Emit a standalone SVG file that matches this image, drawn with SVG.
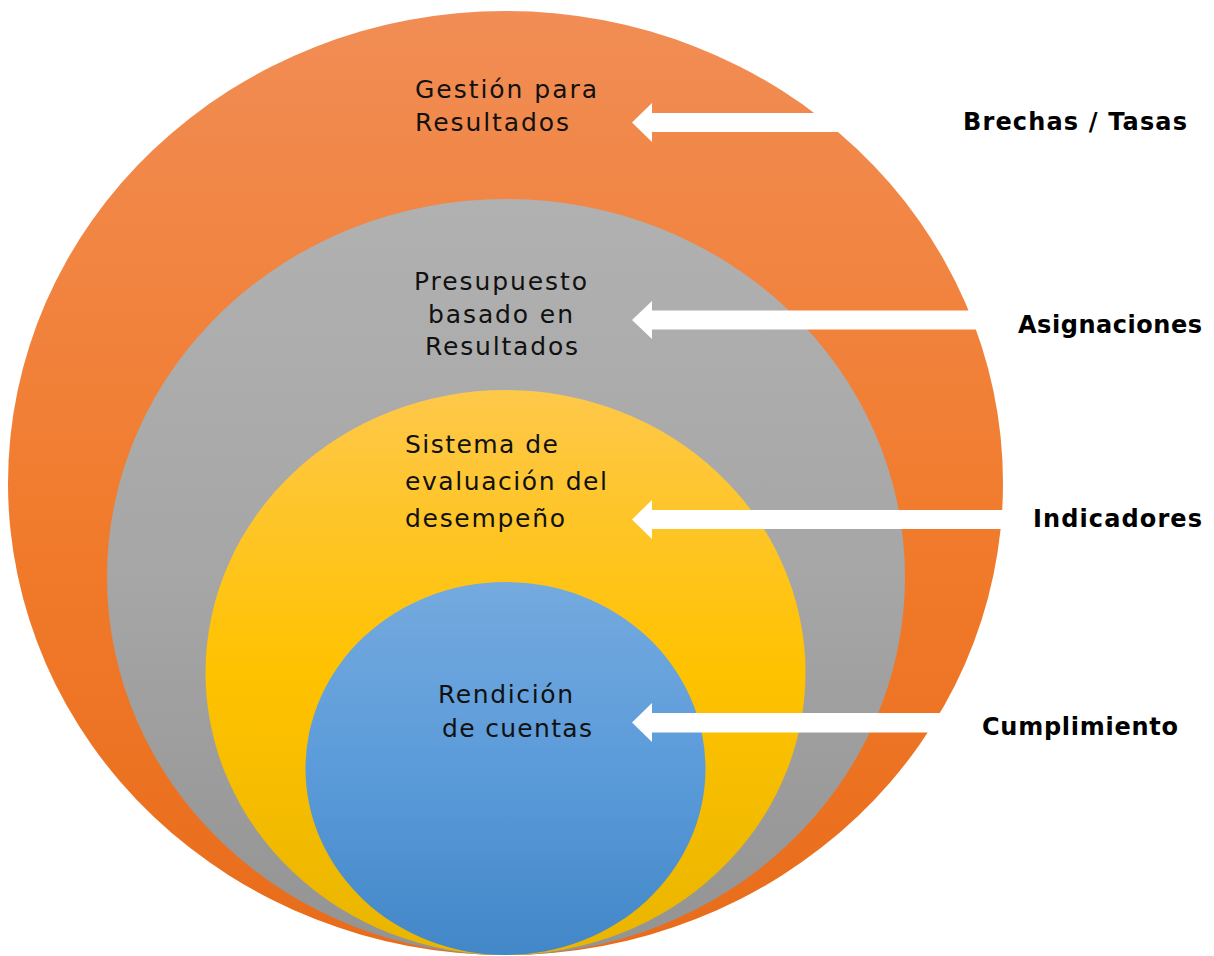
<svg xmlns="http://www.w3.org/2000/svg" width="1214" height="956" viewBox="0 0 1214 956">
  <defs>
    <linearGradient id="gOrange" x1="0" y1="0" x2="0" y2="1">
      <stop offset="0" stop-color="#F18D55"/>
      <stop offset="0.55" stop-color="#F17B2C"/>
      <stop offset="1" stop-color="#E86C1A"/>
    </linearGradient>
    <linearGradient id="gGray" x1="0" y1="0" x2="0" y2="1">
      <stop offset="0" stop-color="#B1B1B1"/>
      <stop offset="0.5" stop-color="#A6A6A6"/>
      <stop offset="1" stop-color="#939393"/>
    </linearGradient>
    <linearGradient id="gYellow" x1="0" y1="0" x2="0" y2="1">
      <stop offset="0" stop-color="#FEC84A"/>
      <stop offset="0.5" stop-color="#FFC200"/>
      <stop offset="1" stop-color="#E9B500"/>
    </linearGradient>
    <linearGradient id="gBlue" x1="0" y1="0" x2="0" y2="1">
      <stop offset="0" stop-color="#74AADE"/>
      <stop offset="0.5" stop-color="#5B9BDA"/>
      <stop offset="1" stop-color="#4287C8"/>
    </linearGradient>
  </defs>
  <style>
    .in { font-family: "DejaVu Sans", "Liberation Sans", sans-serif; font-size: 25px; fill: #111111; }
    .lab { font-family: "DejaVu Sans", "Liberation Sans", sans-serif; font-size: 24px; font-weight: bold; fill: #000000; }
    .arrow { fill: #FFFFFF; }
  </style>
  <rect x="0" y="0" width="1214" height="956" fill="#FFFFFF"/>

  <g id="node-gestion">
    <ellipse cx="505.5" cy="483" rx="497.5" ry="472" fill="url(#gOrange)"/>
  </g>
  <g id="node-presupuesto">
    <ellipse cx="506" cy="577" rx="399" ry="378" fill="url(#gGray)"/>
  </g>
  <g id="node-sistema">
    <ellipse cx="505.5" cy="672.5" rx="300" ry="282.5" fill="url(#gYellow)"/>
  </g>
  <g id="node-rendicion">
    <ellipse cx="505.5" cy="768.5" rx="200" ry="186.5" fill="url(#gBlue)"/>
  </g>

  <g id="connectors">
    <path class="arrow" d="M632,122.5 L652,103 L652,113 L840,113 L840,132 L652,132 L652,142 Z"/>
    <path class="arrow" d="M632,320 L652,301 L652,310.5 L990,310.5 L990,329.5 L652,329.5 L652,339 Z"/>
    <path class="arrow" d="M632,519.5 L652,500 L652,510 L1004,510 L1004,529 L652,529 L652,539 Z"/>
    <path class="arrow" d="M632,722.5 L652,703 L652,713 L950,713 L950,732.5 L652,732.5 L652,742 Z"/>
  </g>

  <g id="text-gestion">
    <text class="in" x="415" y="98" textLength="182">Gestión para</text>
    <text class="in" x="415" y="131" textLength="154">Resultados</text>
  </g>
  <g id="text-presupuesto">
    <text class="in" x="414" y="290" textLength="173">Presupuesto</text>
    <text class="in" x="428" y="323" textLength="145">basado en</text>
    <text class="in" x="425" y="355" textLength="153">Resultados</text>
  </g>
  <g id="text-sistema">
    <text class="in" x="405" y="453" textLength="153">Sistema de</text>
    <text class="in" x="405" y="490" textLength="202">evaluación del</text>
    <text class="in" x="405" y="527" textLength="160">desempeño</text>
  </g>
  <g id="text-rendicion">
    <text class="in" x="438" y="703" textLength="135">Rendición</text>
    <text class="in" x="442" y="737" textLength="150">de cuentas</text>
  </g>

  <g id="labels">
    <text class="lab" x="963" y="130" textLength="224">Brechas / Tasas</text>
    <text class="lab" x="1018" y="333" textLength="184">Asignaciones</text>
    <text class="lab" x="1033" y="527" textLength="169">Indicadores</text>
    <text class="lab" x="982" y="735" textLength="196">Cumplimiento</text>
  </g>
</svg>
